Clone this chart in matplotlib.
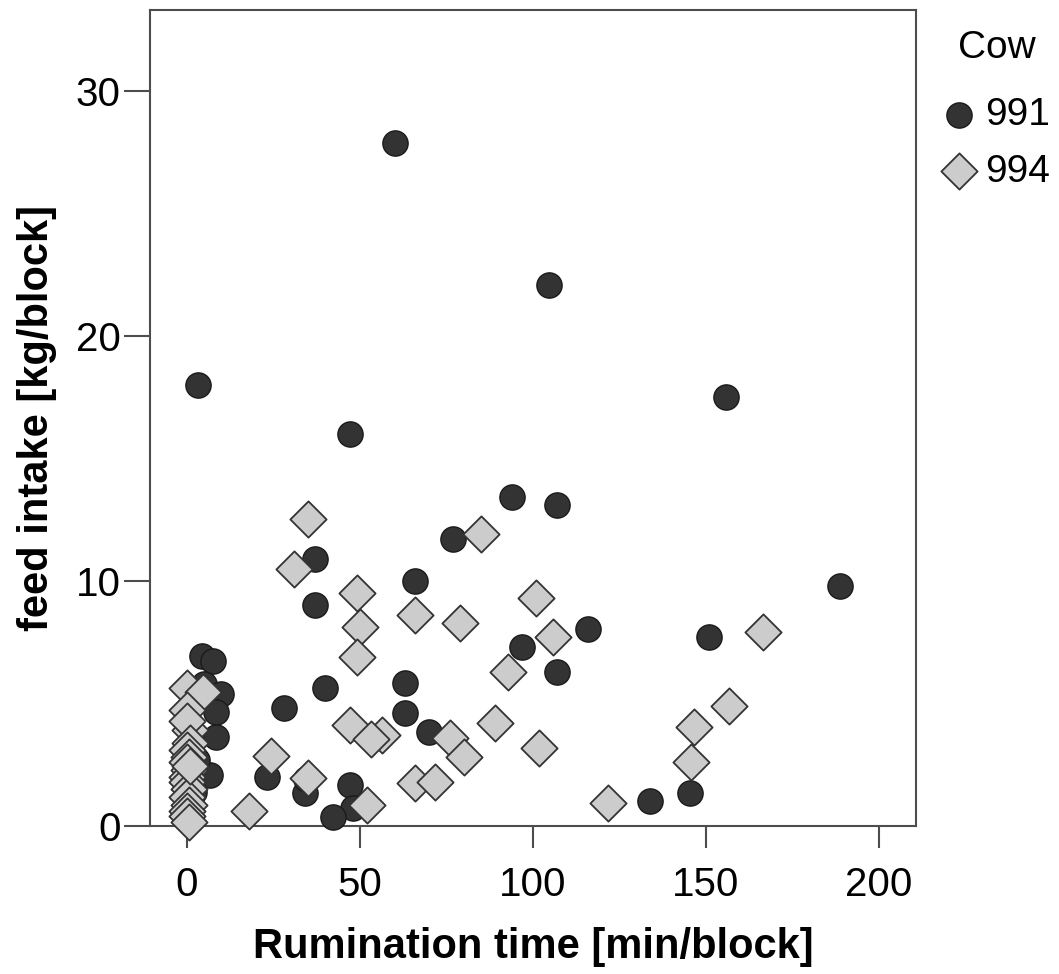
import matplotlib
matplotlib.use("Agg")
import matplotlib.pyplot as plt
import numpy as np

plt.rcParams['font.family'] = ['Liberation Sans', 'DejaVu Sans']

# ===== data =====
# cow 991 (dark circles)
rum_991 = [60.1, 104.6, 3.2, 155.8, 47.1, 93.9, 106.9, 77.0, 37.0, 65.9,
           188.7, 37.0, 115.9, 96.7, 150.9, 106.9, 4.2, 7.6, 5.0, 9.8,
           8.5, 8.3, 6.5, 3.0, 2.0, 39.9, 63.0, 28.1, 63.0, 70.0,
           23.0, 34.1, 34.5, 47.1, 47.9, 42.1, 133.8, 145.4]
feed_991 = [27.88, 22.08, 18.0, 17.51, 16.0, 13.43, 13.1, 11.71, 10.89, 10.0,
            9.8, 9.02, 8.04, 7.32, 7.71, 6.3, 6.95, 6.75, 5.8, 5.38,
            4.65, 3.65, 2.1, 2.7, 1.4, 5.62, 5.82, 4.8, 4.63, 3.85,
            2.01, 1.33, 1.9, 1.67, 0.72, 0.38, 1.02, 1.33]

# cow 994 (grey diamonds)
rum_994 = [35.1, 31.0, 85.0, 49.0, 100.9, 50.0, 65.9, 78.9, 105.9, 166.6,
           49.0, 92.9, 156.6, 89.0, 47.1, 146.6, 56.5, 53.1, 76.0, 101.8,
           80.1, 24.2, 145.7, 35.1, 65.9, 71.7, 51.9, 121.8, 18.0,
           0.0, 4.5, 0.0, 1.0, 0.0, 1.0, 0.0, 0.5, 0.0, 0.5, 0.0,
           0.0, 0.5, 0.0, 0.5, 0.0, 0.0, 0.5, 1.0]
feed_994 = [12.52, 10.49, 11.9, 9.52, 9.32, 8.14, 8.61, 8.30, 7.70, 7.93,
            6.89, 6.30, 4.91, 4.22, 4.12, 4.03, 3.71, 3.54, 3.58, 3.20,
            2.80, 2.86, 2.63, 1.95, 1.74, 1.81, 0.86, 0.93, 0.63,
            5.62, 5.48, 4.73, 3.92, 4.3, 3.38, 3.1, 2.83, 2.6, 2.3, 2.01,
            1.8, 1.5, 1.2, 0.86, 0.63, 0.4, 0.15, 2.45]

x_ticks = [0, 50, 100, 150, 200]
y_ticks = [0, 10, 20, 30]

# ===== plot =====
fig = plt.figure(figsize=(10.59, 9.74), dpi=100)
ax = fig.add_axes([150/1059, 148/974, 766/1059, 816/974])

frame_col = '#4d4d4d'
ax.scatter(rum_991, feed_991, s=330, marker='o', facecolor='#333333',
           edgecolor='#1a1a1a', linewidth=1.0, clip_on=False, zorder=3, label='991')
ax.scatter(rum_994, feed_994, s=340, marker='D', facecolor='#cccccc',
           edgecolor='#333333', linewidth=1.3, clip_on=False, zorder=4, label='994')

ax.set_xlim(-10.7, 210.7)
ax.set_ylim(0, 33.3)
ax.set_xticks(x_ticks)
ax.set_yticks(y_ticks)

for sp in ax.spines.values():
    sp.set_color(frame_col)
    sp.set_linewidth(1.5)

ax.tick_params(axis='x', direction='out', length=16, width=1.5, color=frame_col,
               labelsize=29, pad=13)
ax.tick_params(axis='y', direction='out', length=19, width=1.5, color=frame_col,
               labelsize=29, pad=2)

ax.set_xlabel('Rumination time [min/block]', fontsize=30, fontweight='bold')
ax.set_ylabel('feed intake [kg/block]', fontsize=30, fontweight='bold')
ax.xaxis.set_label_coords(0.5, -0.124)
ax.yaxis.set_label_coords(-0.122, 0.5)

# legend: title as separate text, entries below
fig.text(997/1059, 1 - 48/974, 'Cow', ha='center', va='center', fontsize=28)
leg = ax.legend(loc='upper left', bbox_to_anchor=(940/1059, 1 - 97/974),
                bbox_transform=fig.transFigure, frameon=False, fontsize=28,
                handlelength=1.0, handletextpad=0.15,
                borderpad=0, borderaxespad=0, labelspacing=0.53)

fig.savefig('out.png', dpi=100)
